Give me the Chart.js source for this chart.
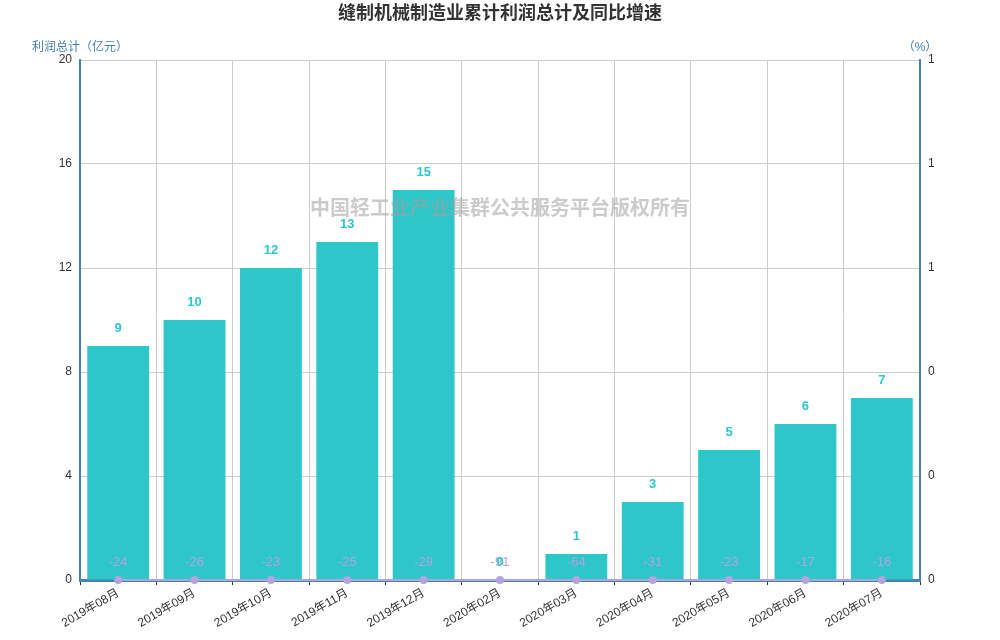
<!DOCTYPE html>
<html>
<head>
<meta charset="utf-8">
<script src="https://cdn.jsdelivr.net/npm/chart.js@4/dist/chart.umd.min.js"></script>
<style>
  html, body { margin: 0; padding: 0; background: #fff; }
  #wrap { width: 1000px; height: 640px; position: relative; }
</style>
</head>
<body>
<div id="wrap"><canvas id="c" width="1000" height="640"></canvas></div>
<script>
const months = ['2019年08月', '2019年09月', '2019年10月', '2019年11月', '2019年12月',
  '2020年02月', '2020年03月', '2020年04月', '2020年05月', '2020年06月', '2020年07月'];
const profit = [9, 10, 12, 13, 15, 0, 1, 3, 5, 6, 7];
const growth = [-24, -26, -23, -25, -29, -91, -64, -31, -23, -17, -16];
const leftTicks = [0, 4, 8, 12, 16, 20];

const FONT = "'Liberation Sans', 'Noto Sans CJK SC', sans-serif";
const TEAL = '#2ec7c9';
const PURPLE = '#b6a2de';
const AXIS = '#4682b4';

// right axis only runs 0..1, so the negative growth points sit on its floor
const growthOnAxis = growth.map(v => Math.max(v, 0));

const extras = {
  id: 'extras',
  beforeDraw(chart) {
    const { ctx } = chart;
    ctx.save();
    ctx.fillStyle = '#333';
    ctx.font = 'bold 18px ' + FONT;
    ctx.textAlign = 'center';
    ctx.textBaseline = 'middle';
    ctx.fillText('缝制机械制造业累计利润总计及同比增速', 500, 14);

    ctx.fillStyle = AXIS;
    ctx.font = '12px ' + FONT;
    ctx.fillText('利润总计（亿元）', 80, 48);
    ctx.fillText('（%）', 920, 48);
    ctx.restore();
  },
  afterDatasetsDraw(chart) {
    const { ctx } = chart;
    ctx.save();
    ctx.textAlign = 'center';
    ctx.textBaseline = 'middle';

    // watermark
    ctx.fillStyle = 'rgba(160,160,160,0.55)';
    ctx.font = 'bold 20px ' + FONT;
    ctx.fillText('中国轻工业产业集群公共服务平台版权所有', 500, 209);

    const lineMeta = chart.getDatasetMeta(1);
    ctx.fillStyle = PURPLE;
    ctx.font = '13px ' + FONT;
    lineMeta.data.forEach((pt, i) => {
      ctx.fillText(String(growth[i]), pt.x, pt.y - 18);
    });

    const barMeta = chart.getDatasetMeta(0);
    ctx.fillStyle = TEAL;
    ctx.font = 'bold 13px ' + FONT;
    barMeta.data.forEach((bar, i) => {
      ctx.fillText(String(profit[i]), bar.x, bar.y - 18);
    });
    ctx.restore();
  }
};

new Chart(document.getElementById('c'), {
  data: {
    labels: months,
    datasets: [
      {
        type: 'bar',
        label: '利润总计',
        data: profit,
        yAxisID: 'y',
        backgroundColor: TEAL,
        barPercentage: 0.81,
        categoryPercentage: 1,
        order: 2
      },
      {
        type: 'line',
        label: '同比增速',
        data: growthOnAxis,
        yAxisID: 'y1',
        borderColor: PURPLE,
        backgroundColor: PURPLE,
        borderWidth: 2,
        pointRadius: 4,
        pointBorderWidth: 0,
        tension: 0,
        clip: false,
        order: 1
      }
    ]
  },
  options: {
    responsive: false,
    animation: false,
    devicePixelRatio: 1,
    layout: { padding: { top: 60, left: 0, right: 0, bottom: 0 } },
    plugins: {
      legend: { display: false },
      tooltip: { enabled: false }
    },
    scales: {
      x: {
        offset: true,
        grid: { color: '#ccc', offset: true, tickColor: '#333', tickLength: 5 },
        border: { color: AXIS, width: 3 },
        ticks: {
          color: '#333',
          font: { size: 12, family: FONT },
          minRotation: 30,
          maxRotation: 30,
          autoSkip: false,
          padding: 1
        },
        afterFit(scale) { scale.height = 60; }
      },
      y: {
        position: 'left',
        min: 0,
        max: 20,
        afterBuildTicks(scale) { scale.ticks = leftTicks.map(v => ({ value: v })); },
        grid: { color: '#ccc', drawTicks: false },
        border: { color: AXIS, width: 2 },
        ticks: { color: '#333', font: { size: 12, family: FONT }, padding: 8 },
        afterFit(scale) { scale.width = 80; }
      },
      y1: {
        position: 'right',
        min: 0,
        max: 1,
        grid: { display: false, drawTicks: false },
        border: { color: AXIS, width: 2 },
        ticks: {
          stepSize: 0.2,
          color: '#333',
          font: { size: 12, family: FONT },
          padding: 8,
          callback: v => Number(v).toFixed(0)
        },
        afterFit(scale) { scale.width = 80; }
      }
    }
  },
  plugins: [extras]
});
</script>
</body>
</html>
